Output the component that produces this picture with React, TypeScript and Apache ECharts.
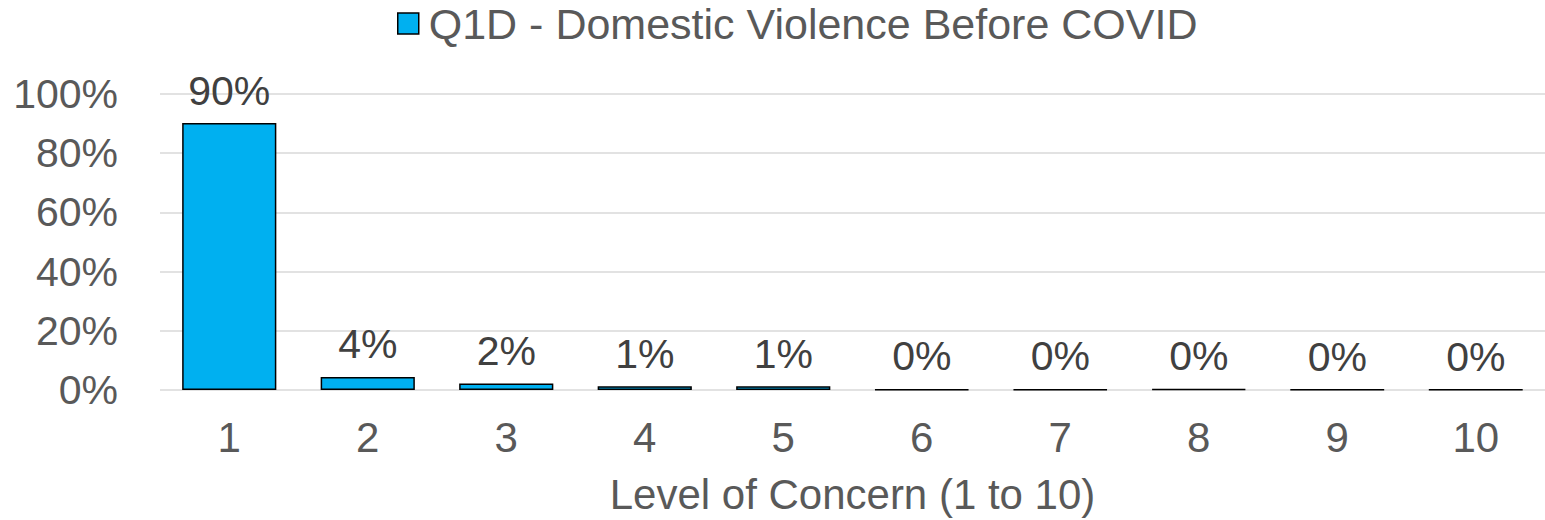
import React, { useEffect, useRef } from "react";
import * as echarts from "echarts";

const categories = ["1", "2", "3", "4", "5", "6", "7", "8", "9", "10"];
const values = [90.2, 4.4, 2.2, 1.3, 1.3, 0.2, 0.2, 0.3, 0.1, 0.1];
const labels = ["90%", "4%", "2%", "1%", "1%", "0%", "0%", "0%", "0%", "0%"];
const seriesName = "Q1D - Domestic Violence Before COVID";
const xAxisName = "Level of Concern (1 to 10)";

export default function App() {
  const ref = useRef<HTMLDivElement>(null);
  useEffect(() => {
    document.body.style.margin = "0";
    const chart = echarts.init(ref.current!, undefined, { renderer: "svg", width: 1545, height: 520 });
    const font = "'Liberation Sans', Arial, sans-serif";
    chart.setOption({
      animation: false,
      textStyle: { fontFamily: font },
      legend: {
        top: -3,
        left: 392,
        icon: "rect",
        itemWidth: 21,
        itemHeight: 21,
        itemStyle: { borderColor: "#000", borderWidth: 1.5 },
        textStyle: { fontSize: 43, color: "#595959", fontFamily: font, padding: [0, 0, 0, 5] },
        data: [seriesName],
      },
      grid: { left: 160, right: 0, top: 94, bottom: 130, containLabel: false, outerBoundsMode: "none" },
      xAxis: {
        type: "category",
        data: categories,
        name: xAxisName,
        nameLocation: "middle",
        nameGap: 83,
        nameTextStyle: { fontSize: 42, color: "#595959", fontFamily: font },
        axisLine: { show: false },
        axisTick: { show: false },
        axisLabel: { fontSize: 42, color: "#595959", margin: 26, fontFamily: font },
      },
      yAxis: {
        type: "value",
        min: 0,
        max: 100,
        interval: 20,
        axisLabel: {
          fontSize: 41,
          color: "#595959",
          margin: 42,
          fontFamily: font,
          formatter: (v: number) => v + "%",
        },
        splitLine: { lineStyle: { color: "#D9D9D9", width: 1.5 } },
      },
      series: [
        {
          name: seriesName,
          type: "bar",
          data: values,
          barCategoryGap: "32%",
          itemStyle: { color: "#00B0F0", borderColor: "#000", borderWidth: 1.5 },
          label: {
            show: true,
            position: "top",
            distance: 12,
            fontSize: 41,
            color: "#404040",
            fontFamily: font,
            formatter: (p: any) => labels[p.dataIndex],
          },
        },
      ],
    });
    return () => chart.dispose();
  }, []);
  return <div ref={ref} style={{ width: 1545, height: 520 }} />;
}
